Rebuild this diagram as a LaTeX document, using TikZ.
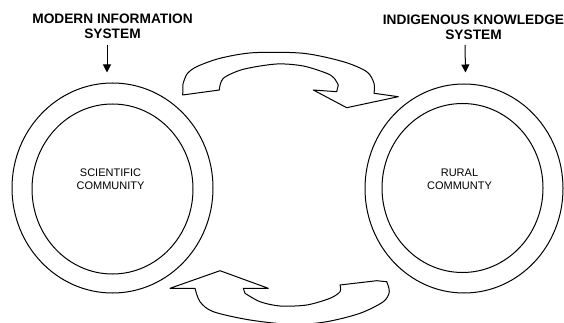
\documentclass[tikz,border=0pt]{standalone}
\usepackage{fontspec}
\setmainfont{Liberation Sans}
\usetikzlibrary{shapes.geometric,arrows.meta}

\begin{document}
\begin{tikzpicture}[
        x=1pt, y=-1pt,
        ring/.style={ellipse, draw, line width=1pt, inner sep=0pt},
        heading/.style={align=center, inner sep=0pt, font=\bfseries\fontsize{13.7}{14.7}\selectfont},
        caption/.style={align=center, inner sep=0pt, font=\fontsize{11}{13}\selectfont},
        band/.style={draw, line width=1pt, line join=round},
        pointer/.style={-{Triangle[length=8pt,width=8pt]}, line width=1pt}
    ]
        \useasboundingbox (0,0) rectangle (564,323);
        \clip (0,0) rectangle (564,323);

        % the two communities
        \node[ring, minimum width=201pt, minimum height=210pt] (sciOuter) at (112.5,188) {};
        \node[ring, minimum width=161pt, minimum height=170pt] (sciInner) at (112.5,189) {};
        \node[caption] (sci) at (110.5,179) {SCIENTIFIC\\COMMUNITY};

        \node[ring, minimum width=198pt, minimum height=209pt] (ruralOuter) at (464,188.5) {};
        \node[ring, minimum width=161pt, minimum height=169pt] (ruralInner) at (462.5,188) {};
        \node[caption] (rural) at (459.5,179) {RURAL\\COMMUNTY};

        % systems feeding them
        \node[heading] (mis) at (112.5,26.3) {MODERN INFORMATION\\SYSTEM};
        \node[heading] (iks) at (473.5,27.5) {INDIGENOUS KNOWLEDGE\\SYSTEM};

        \draw[pointer] ([xshift=-5.5pt,yshift=-6pt]mis.south) -- ([xshift=-5.5pt,yshift=10pt]sciOuter.north);
        \draw[pointer] ([xshift=-8.5pt,yshift=-5pt]iks.south) -- ([xshift=1.5pt,yshift=11pt]ruralOuter.north);

        % exchange arrows between the two
        \draw[band] (182.7,95) -- plot[smooth] coordinates {(183,84) (187,74) (196.7,66.7) (220,58.3) (253.3,52.7) (303.3,53.3) (343.3,61.7) (366.7,71.7) (374,83.3) (374,93.3)}
            -- (398.3,96.7) -- (346.7,107.7) -- (313.3,90) -- (336.7,91.7)
            -- plot[smooth] coordinates {(338.3,85) (334,78) (326.7,73.3) (303.3,66) (276.7,64) (243.3,69.3) (223.3,78.3) (219.3,90)}
            -- cycle;

        \draw[band] (170,288.3) -- (220,270.7) -- (268.3,288.3) -- (243.3,288.3)
            -- plot[smooth] coordinates {(245,293.3) (260,301.7) (280,306) (306.7,305) (330,298.3) (340,291.7) (340,285)}
            -- (376.7,280.7)
            -- plot[smooth] coordinates {(386.7,281.7) (389.3,291.7) (383.3,301.7) (360,313.3) (326.7,321.7) (293,324.5) (250,320) (213.3,311.7) (200,301.7) (195,288.3)}
            -- cycle;
    \end{tikzpicture}
\end{document}
